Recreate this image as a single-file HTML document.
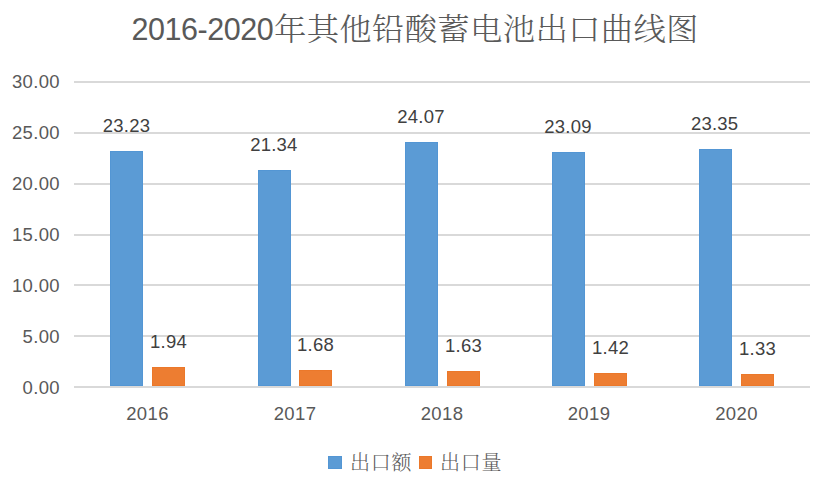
<!DOCTYPE html>
<html>
<head>
<meta charset="utf-8">
<style>
html,body{margin:0;padding:0;background:#fff;}
body{width:826px;height:493px;overflow:hidden;}
svg{display:block;}
.ax{font-family:"Liberation Sans",sans-serif;font-size:18.5px;letter-spacing:0.35px;fill:#595959;}
.dl{font-family:"Liberation Sans",sans-serif;font-size:18.5px;letter-spacing:0.2px;fill:#404040;}
.ti{font-family:"Liberation Sans",sans-serif;font-size:30.5px;letter-spacing:-0.45px;fill:#595959;}
.tc{font-family:"Noto Serif CJK SC",serif;font-size:32.4px;letter-spacing:0.3px;font-weight:300;fill:#595959;}
.lg{font-family:"Noto Serif CJK SC",serif;font-size:20px;font-weight:300;letter-spacing:0.8px;fill:#595959;}
</style>
</head>
<body>
<svg width="826" height="493" viewBox="0 0 826 493">
<rect width="826" height="493" fill="#fff"/>
<!-- title -->
<text class="ti" x="131.4" y="40">2016-2020</text>
<text class="tc" x="274" y="40" transform="matrix(1 0 0 0.955 0 1.6)">年其他铅酸蓄电池出口曲线图</text>
<!-- gridlines -->
<g fill="#D9D9D9">
<rect x="74" y="81" width="736" height="2"/>
<rect x="74" y="132" width="736" height="2"/>
<rect x="74" y="183" width="736" height="2"/>
<rect x="74" y="234" width="736" height="2"/>
<rect x="74" y="284" width="736" height="2"/>
<rect x="74" y="335" width="736" height="2"/>
<rect x="74" y="386" width="736" height="2"/>
</g>
<!-- y axis labels -->
<g class="ax" text-anchor="end">
<text x="60" y="88">30.00</text>
<text x="60" y="139">25.00</text>
<text x="60" y="190">20.00</text>
<text x="60" y="241">15.00</text>
<text x="60" y="292">10.00</text>
<text x="60" y="343">5.00</text>
<text x="60" y="394">0.00</text>
</g>
<!-- bars -->
<g fill="#5B9BD5" stroke="#5396D4" stroke-width="1">
<rect x="110.5" y="151.5" width="32" height="234"/>
<rect x="258.5" y="170.5" width="32" height="215"/>
<rect x="405.5" y="142.5" width="32" height="243"/>
<rect x="552.5" y="152.5" width="32" height="233"/>
<rect x="699.5" y="149.5" width="32" height="236"/>
</g>
<g fill="#ED7D31" stroke="#EB782A" stroke-width="1">
<rect x="152.5" y="367.5" width="32" height="18"/>
<rect x="299.5" y="370.5" width="32" height="15"/>
<rect x="447.5" y="371.5" width="32" height="14"/>
<rect x="594.5" y="373.5" width="32" height="12"/>
<rect x="741.5" y="374.5" width="32" height="11"/>
</g>
<!-- data labels -->
<g class="dl" text-anchor="middle">
<text x="126.5" y="132">23.23</text>
<text x="273.9" y="151">21.34</text>
<text x="421" y="123">24.07</text>
<text x="568" y="133">23.09</text>
<text x="714.7" y="130">23.35</text>
<text x="168.5" y="348">1.94</text>
<text x="315.5" y="351">1.68</text>
<text x="463.5" y="352">1.63</text>
<text x="610.5" y="354">1.42</text>
<text x="757.5" y="355">1.33</text>
</g>
<!-- x axis labels -->
<g class="ax" text-anchor="middle">
<text x="147.5" y="420">2016</text>
<text x="295" y="420">2017</text>
<text x="442" y="420">2018</text>
<text x="589" y="420">2019</text>
<text x="736.5" y="420">2020</text>
</g>
<!-- legend -->
<rect x="328.5" y="456.5" width="13" height="12" fill="#5B9BD5" stroke="#5396D4"/>
<text class="lg" x="350" y="470.3">出口额</text>
<rect x="419.5" y="456.5" width="12" height="12" fill="#ED7D31" stroke="#EB782A"/>
<text class="lg" x="440" y="470.3">出口量</text>
</svg>
</body>
</html>
